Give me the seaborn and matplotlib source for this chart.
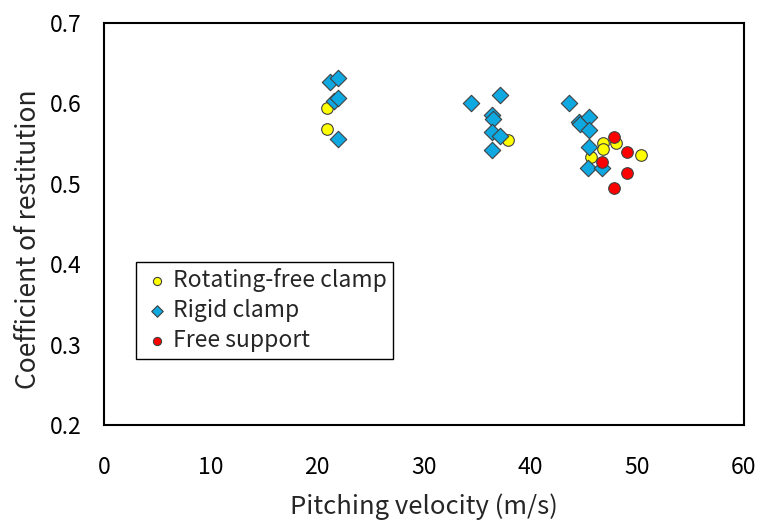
import pandas as pd
import numpy as np
import matplotlib
matplotlib.use('Agg')
import matplotlib.pyplot as plt
import seaborn as sns

# data
rot_x = [20.9, 20.9, 37.9, 46.8, 46.8, 48.0, 45.7, 50.3]
rot_y = [0.594, 0.568, 0.554, 0.551, 0.543, 0.551, 0.533, 0.536]

rigid_x = [21.2, 21.9, 21.6, 21.9, 21.9,
           34.4, 37.1, 36.4, 36.5, 36.4, 37.1, 36.4,
           43.6, 44.5, 44.6, 45.5, 45.5, 45.5, 45.4, 46.7]
rigid_y = [0.626, 0.631, 0.603, 0.607, 0.556,
           0.600, 0.610, 0.585, 0.581, 0.564, 0.560, 0.542,
           0.601, 0.577, 0.574, 0.583, 0.567, 0.546, 0.520, 0.520]

free_x = [47.8, 49.0, 46.7, 49.0, 47.8]
free_y = [0.558, 0.540, 0.527, 0.514, 0.495]

labels = ["Rotating-free clamp", "Rigid clamp", "Free support"]

df = pd.concat([
    pd.DataFrame({"v": rot_x, "e": rot_y, "type": labels[0]}),
    pd.DataFrame({"v": rigid_x, "e": rigid_y, "type": labels[1]}),
    pd.DataFrame({"v": free_x, "e": free_y, "type": labels[2]}),
])

sns.set_style("white")
plt.rcParams['font.family'] = ['Noto Sans CJK JP', 'DejaVu Sans']

fig = plt.figure(figsize=(7.59, 5.21), dpi=100)
ax = fig.add_axes([104 / 759, 1 - 425 / 521, 640 / 759, 402 / 521])

palette = {labels[0]: "#FFFF00", labels[1]: "#10A8E0", labels[2]: "#FF0000"}
markers = {labels[0]: "o", labels[1]: "D", labels[2]: "o"}

for lab in labels:
    sub = df[df["type"] == lab]
    sns.scatterplot(data=sub, x="v", y="e", color=palette[lab], marker=markers[lab],
                    s=70, edgecolor="#404040", linewidth=0.8, label=lab, ax=ax,
                    zorder=3)

ax.set_xlim(0, 60)
ax.set_ylim(0.2, 0.7)
ax.set_xticks(np.arange(0, 61, 10))
ax.set_yticks(np.arange(0.2, 0.71, 0.1))
ax.set_yticklabels([f"{t:.1f}" for t in np.arange(0.2, 0.71, 0.1)])
ax.tick_params(direction="in", length=5, width=1, labelsize=16.5, colors="black")
ax.tick_params(axis="x", pad=22)
ax.tick_params(axis="y", pad=16)
for sp in ax.spines.values():
    sp.set_color("black")
    sp.set_linewidth(1.5)

ax.set_xlabel("Pitching velocity (m/s)", fontsize=18.5)
ax.set_ylabel("Coefficient of restitution", fontsize=19)
ax.xaxis.label.set_va("baseline")
ax.yaxis.label.set_va("baseline")
ax.xaxis.set_label_coords(0.5, -0.221)
ax.yaxis.set_label_coords(-0.106, 0.463)

leg = ax.legend(loc="lower left", bbox_to_anchor=(0.05, 0.164), fontsize=16.5,
                frameon=True, fancybox=False, edgecolor="black", framealpha=1,
                handletextpad=0.1, handlelength=1.2, borderpad=0.3, labelspacing=0.3,
                markerscale=0.7, borderaxespad=0)
leg.get_frame().set_linewidth(1)

fig.savefig("out.png", dpi=100)
